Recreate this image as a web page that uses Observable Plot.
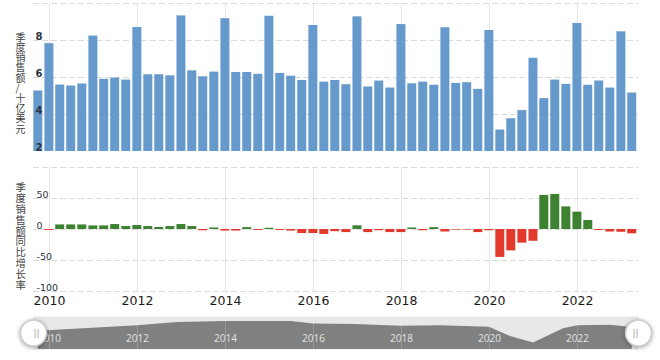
<!DOCTYPE html>
<html><head><meta charset="utf-8">
<script src="https://cdn.jsdelivr.net/npm/d3@7"></script>
<script src="https://cdn.jsdelivr.net/npm/@observablehq/plot@0.6"></script>
<style>
html,body{margin:0;padding:0;background:#fff;}
#chart{position:relative;width:660px;height:360px;overflow:hidden;background:#fff;font-family:"DejaVu Sans",sans-serif;}
#chart .panel{position:absolute;left:0;}
.nav circle{filter:drop-shadow(0 1px 2px rgba(0,0,0,0.35));}
</style></head><body>
<div id="chart"></div>
<script>
// Quarter-end dates (Q3 2009 .. Q1 2023)
const quarters = [
  "2009-09-30","2009-12-31",
  "2010-03-31","2010-06-30","2010-09-30","2010-12-31",
  "2011-03-31","2011-06-30","2011-09-30","2011-12-31",
  "2012-03-31","2012-06-30","2012-09-30","2012-12-31",
  "2013-03-31","2013-06-30","2013-09-30","2013-12-31",
  "2014-03-31","2014-06-30","2014-09-30","2014-12-31",
  "2015-03-31","2015-06-30","2015-09-30","2015-12-31",
  "2016-03-31","2016-06-30","2016-09-30","2016-12-31",
  "2017-03-31","2017-06-30","2017-09-30","2017-12-31",
  "2018-03-31","2018-06-30","2018-09-30","2018-12-31",
  "2019-03-31","2019-06-30","2019-09-30","2019-12-31",
  "2020-03-31","2020-06-30","2020-09-30","2020-12-31",
  "2021-03-31","2021-06-30","2021-09-30","2021-12-31",
  "2022-03-31","2022-06-30","2022-09-30","2022-12-31",
  "2023-03-31"
];
// Quarterly sales, billion USD
const sales = [5.27,7.83,5.59,5.54,5.65,8.24,5.90,5.97,5.86,8.70,6.15,6.15,6.09,9.33,6.36,6.04,6.29,9.18,6.27,6.27,6.17,9.31,6.22,6.07,5.84,8.81,5.75,5.84,5.61,9.28,5.49,5.81,5.43,8.86,5.66,5.75,5.58,8.69,5.68,5.72,5.36,8.54,3.16,3.77,4.21,7.04,4.86,5.86,5.63,8.92,5.58,5.81,5.43,8.47,5.16];
// Year-over-year growth, %
const yoy = [null,-1.5,7.4,7.4,7.4,5.8,5.8,8,4.8,6.4,4.8,3.2,4.8,8,4.8,-2,2.5,-2.5,-2.5,3,-1.5,2,-1.5,-2.5,-6.5,-6.5,-8,-3.5,-5,6,-5,-2,-5,-5,2.5,-2,3,-4,-1,-1,-5,-2,-45,-34.5,-22,-19,55,56.5,36.5,28,14.5,-1.5,-4,-4.5,-7];
// Navigator (trailing annual sales, billion USD) read from the overview strip
const navDates = ["2009-09-30","2012-01-01","2012-12-01","2014-01-01","2015-07-01","2016-01-01","2016-12-15","2018-01-01","2018-11-20","2019-12-31","2020-06-24","2021-01-01","2021-09-06","2022-01-01","2022-10-01","2023-03-31"];
const navValues = [23.6,26.2,27.7,28.2,28.2,27.0,26.7,25.9,26.1,25.4,21.1,18.0,24.8,26.2,26.4,25.3];

const yearLabels = [2010,2012,2014,2016,2018,2020,2022];
const salesTicks = [2,4,6,8];
const salesGrid = [4,6,8,10];
const salesDomain = [2,10];
const yoyTicks = [50,0,-50,-100];
const yoyGrid = [100,50,0,-50,-100];
const yoyDomain = [-100,100];
const navDomain = [15,30.5];
const xDomainStr = ["2009-08-21","2023-05-22"];
const titleTop = "季度销售额/十亿美元";
const titleBottom = "季度销售额同比增长率";

const parse = d3.utcParse("%Y-%m-%d");
const data = quarters.map((q,i)=>({date: parse(q), sales: sales[i], yoy: yoy[i]}));
const navData = navDates.map((d,i)=>({date: parse(d), value: navValues[i]}));
const xDomain = xDomainStr.map(parse);
const yearTicks = yearLabels.map(y => parse(`${y}-01-01`));
const halfQ = 45.6*864e5;
const x1 = d => new Date(+d.date - halfQ), x2 = d => new Date(+d.date + halfQ);
const vertical = s => [...s].join("\n");

const blue = "#6699cc", green = "#3d8231", red = "#e2392c";
const common = {width: 660, marginLeft: 33, marginRight: 22};
const font = {fontFamily: "DejaVu Sans, sans-serif", background: "transparent", overflow: "visible"};
const cjk = "Noto Sans CJK SC, sans-serif";

const topPlot = Plot.plot({
  ...common, height: 152, marginTop: 3, marginBottom: 1,
  x: {type: "utc", domain: xDomain, axis: null},
  y: {domain: salesDomain, axis: null},
  style: font,
  marks: [
    Plot.ruleX(yearTicks, {x: d=>d, stroke: "#e6e6e6"}),
    Plot.ruleY(salesGrid, {y: d=>d, stroke: "#dadada", strokeDasharray: "6,3"}),
    Plot.rectY(data, {x1, x2, y1: salesDomain[0], y2: "sales", fill: blue, insetLeft: 1, insetRight: 1}),
    Plot.text(salesTicks, {y: d=>d, frameAnchor: "left", textAnchor: "start", dx: 2, dy: -4, text: d=>String(d), fontSize: 10, fontWeight: "bold", fill: "#2b3342"}),
    Plot.text([titleTop], {frameAnchor: "left", dx: -18, dy: 6, text: vertical, fontSize: 10, lineHeight: 1.02, fontFamily: cjk, fill: "#444"})
  ]
});

const pos = data.filter(d => d.yoy != null && d.yoy >= 0);
const neg = data.filter(d => d.yoy != null && d.yoy < 0);
const botPlot = Plot.plot({
  ...common, height: 163, marginTop: 15, marginBottom: 24,
  x: {type: "utc", domain: xDomain, axis: null},
  y: {domain: yoyDomain, axis: null},
  style: font,
  marks: [
    Plot.ruleX(yearTicks, {x: d=>d, stroke: "#e6e6e6"}),
    Plot.ruleY(yoyGrid, {y: d=>d, stroke: "#dadada", strokeDasharray: "6,3"}),
    Plot.rectY(pos, {x1, x2, y: "yoy", fill: green, insetLeft: 1, insetRight: 1}),
    Plot.rectY(neg, {x1, x2, y: "yoy", fill: red, insetLeft: 1, insetRight: 1}),
    Plot.text(yoyTicks, {y: d=>d, frameAnchor: "left", textAnchor: "start", dx: 3, dy: -4, text: d=>String(d), fontSize: 9.5, fill: "#2b3342"}),
    Plot.text(yearTicks, {x: d=>d, frameAnchor: "bottom", dy: 13, text: d=>String(d.getUTCFullYear()), fontSize: 12.5, fill: "#1a1a1a"}),
    Plot.text([titleBottom], {frameAnchor: "left", dx: -18, dy: 7, text: vertical, fontSize: 10.4, lineHeight: 1.04, fontFamily: cjk, fill: "#444"})
  ]
});

const navPlot = Plot.plot({
  ...common, height: 45, marginTop: 4, marginBottom: 8,
  x: {type: "utc", domain: xDomain, axis: null},
  y: {domain: navDomain, axis: null},
  style: font,
  marks: [
    Plot.frame({fill: "#e8e8e8", stroke: "none"}),
    Plot.areaY(navData, {x: "date", y1: navDomain[0], y2: "value", fill: "#808080"}),
    Plot.ruleX(yearTicks, {x: d=>d, stroke: "white", strokeOpacity: 0.2}),
    Plot.text(yearTicks, {x: d=>d, frameAnchor: "bottom", dy: -7.5, text: d=>String(d.getUTCFullYear()), fontSize: 10, fontFamily: "Open Sans, sans-serif", fill: "#e2e2e2"}),
    Plot.dot([0], {frameAnchor: "left", r: 13, fill: "white", stroke: "#cccccc"}),
    Plot.dot([0], {frameAnchor: "right", r: 13, fill: "white", stroke: "#cccccc"}),
    Plot.text([0], {frameAnchor: "left", text: () => "||", fontSize: 9, fill: "#999"}),
    Plot.text([0], {frameAnchor: "right", text: () => "||", fontSize: 9, fill: "#999"})
  ]
});

const chart = document.getElementById("chart");
function place(el, top, cls) {
  el.classList.add("panel");
  if (cls) el.classList.add(cls);
  el.style.top = top + "px";
  chart.appendChild(el);
}
place(topPlot, 0);
place(botPlot, 152);
place(navPlot, 312, "nav");
</script>
</body></html>
